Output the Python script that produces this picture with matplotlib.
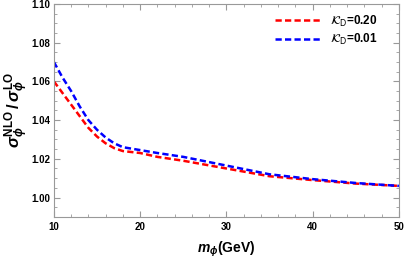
import numpy as np
import matplotlib as mpl
mpl.use('Agg')
import matplotlib.pyplot as plt
from matplotlib.ticker import MultipleLocator
from matplotlib.font_manager import FontProperties

m_phi = [10, 11, 12, 13, 14, 15, 16, 17, 18, 20, 22, 25, 30, 35, 40, 45, 50]
ratio_020 = [1.060, 1.054, 1.048, 1.042, 1.036, 1.0315, 1.028, 1.0255, 1.024, 1.023, 1.021, 1.019, 1.015, 1.011, 1.009, 1.0072, 1.006]
ratio_001 = [1.070, 1.062, 1.055, 1.047, 1.040, 1.035, 1.031, 1.028, 1.026, 1.0245, 1.023, 1.021, 1.0165, 1.012, 1.0095, 1.0075, 1.006]

plt.rcParams['font.family'] = 'Liberation Sans'
plt.rcParams['mathtext.fontset'] = 'custom'
plt.rcParams['mathtext.rm'] = 'Liberation Sans:bold'
plt.rcParams['mathtext.bf'] = 'Liberation Sans:bold'
plt.rcParams['mathtext.it'] = 'Liberation Sans:italic:bold'

fig = plt.figure(figsize=(4.05, 2.61), dpi=100)
ax = fig.add_axes([0.133, 0.169, 0.852, 0.816])

ax.plot(m_phi, ratio_020, color='#ff0000', lw=1.8, dashes=(2.5, 1.3), label=r'$\mathcal{K}_{\mathrm{D}}$=0.20')
ax.plot(m_phi, ratio_001, color='#0000ff', lw=1.8, dashes=(2.5, 1.3), label=r'$\mathcal{K}_{\mathrm{D}}$=0.01')

ax.set_xlim(10, 50)
ax.set_ylim(0.99, 1.10)
ax.xaxis.set_major_locator(MultipleLocator(10))
ax.xaxis.set_minor_locator(MultipleLocator(2))
ax.yaxis.set_major_locator(MultipleLocator(0.02))
ax.yaxis.set_minor_locator(MultipleLocator(0.005))
ax.yaxis.set_major_formatter(mpl.ticker.FormatStrFormatter('%.2f'))

for s in ax.spines.values():
    s.set_color('#999999')
    s.set_linewidth(0.8)
ax.tick_params(which='both', direction='in', top=True, right=True, color='#999999')
ax.tick_params(which='major', length=4, labelsize=7)
ax.tick_params(which='minor', length=2)
ax.tick_params(axis='x', which='major', pad=4)
ax.tick_params(axis='y', which='major', pad=2.5)
for lab in ax.get_xticklabels() + ax.get_yticklabels():
    lab.set_fontweight('bold')

ax.set_xlabel(r'$m_{\phi}$(GeV)', fontsize=10, fontweight='bold', labelpad=5)
ax.set_ylabel(r'$\sigma_{\phi}^{\mathrm{NLO}}\,/\,\sigma_{\phi}^{\mathrm{LO}}$', fontsize=12, fontweight='bold', labelpad=0)

leg_font = FontProperties(family='Liberation Sans', weight='bold', size=8.5, math_fontfamily='dejavusans')
leg = ax.legend(loc='upper right', frameon=False, prop=leg_font, handlelength=3.8, handletextpad=0.9,
                labelspacing=0.3, borderpad=0, borderaxespad=0, bbox_to_anchor=(0.94, 0.955))

fig.savefig('out.png', dpi=100)
